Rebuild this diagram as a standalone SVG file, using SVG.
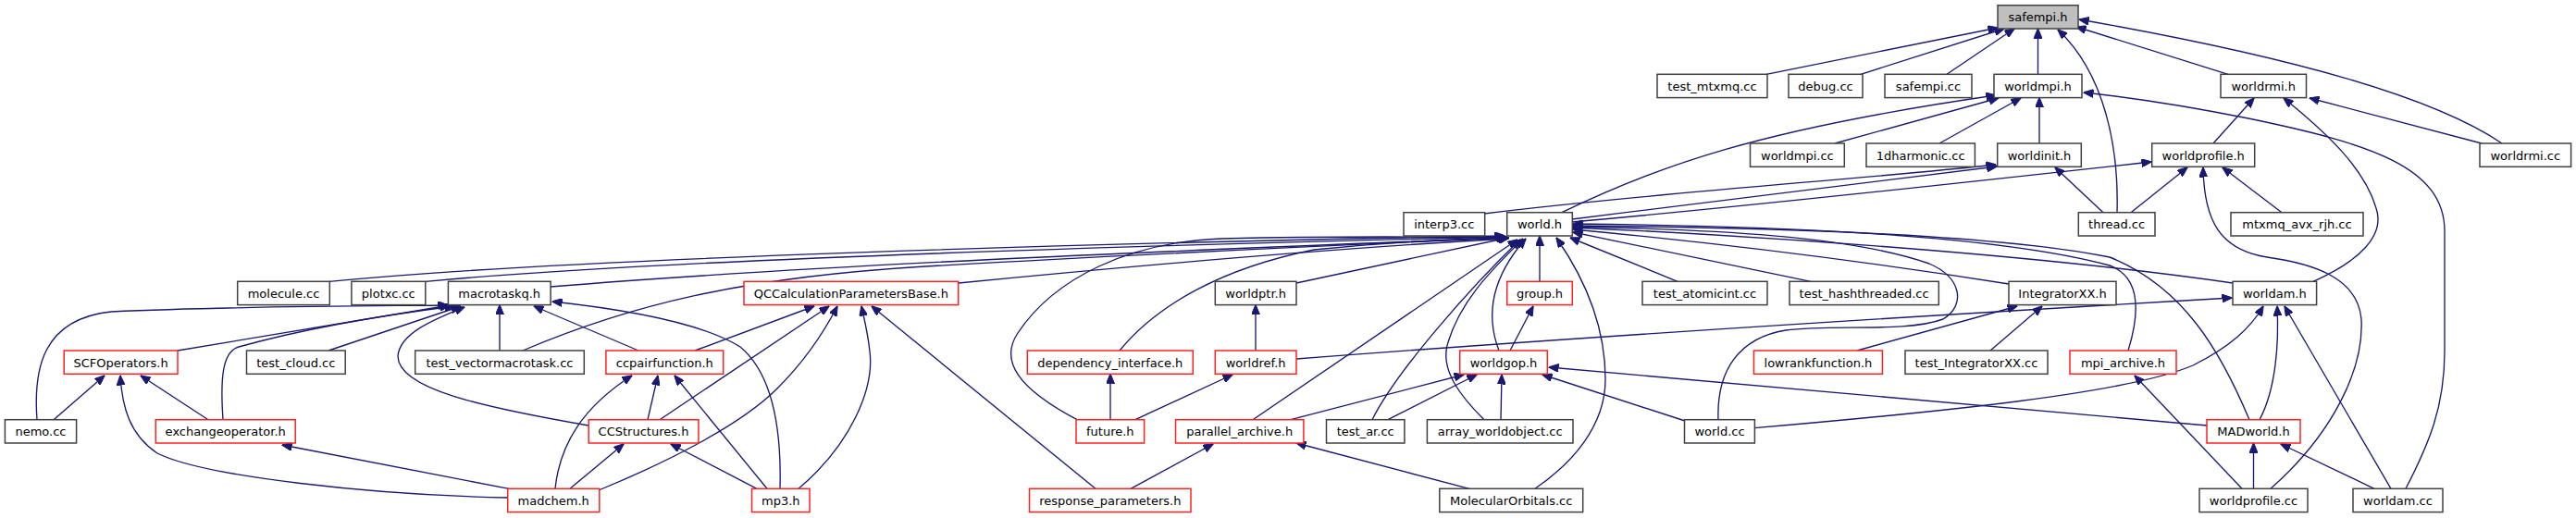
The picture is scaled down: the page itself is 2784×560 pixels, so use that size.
<svg xmlns="http://www.w3.org/2000/svg" width="2784" height="560" viewBox="0 0 2784 560">
<style>
.e{fill:none;stroke:#191970;stroke-width:1.35;marker-end:url(#arr)}
.n rect{fill:#fff;stroke:#404040;stroke-width:1.5}
.r rect{fill:#fff;stroke:#ff2020;stroke-width:1.5}
.root rect{fill:#bfbfbf;stroke:#404040;stroke-width:1.5}
text{font-family:"DejaVu Sans","Liberation Sans",sans-serif;font-size:13px;fill:#000;text-anchor:middle}
</style>
<defs>
<marker id="arr" viewBox="0 0 11 9" refX="10.5" refY="4.5" markerWidth="11" markerHeight="9" markerUnits="userSpaceOnUse" orient="auto"><path d="M0,0 L11,4.5 L0,9 z" fill="#191970" stroke="#191970" stroke-width="1"/></marker>
</defs>
<rect width="2784" height="560" fill="#fff"/>
<g id="edges">
<path class="e" d="M1909,80.3 L2159,30"/>
<path class="e" d="M2011,80.3 L2166,31"/>
<path class="e" d="M2104,80.3 L2177,31"/>
<path class="e" d="M2202.5,80.3 L2202.5,31"/>
<path class="e" d="M2288,229.7 C2290,160 2275,80 2224,32"/>
<path class="e" d="M2408,80.3 L2244,29"/>
<path class="e" d="M2704,155 C2630,105 2480,62 2247,21"/>
<path class="e" d="M1983,155 L2160,106"/>
<path class="e" d="M2096,155 L2184,106"/>
<path class="e" d="M1688,229.7 C1790,180 1900,140 2157,103"/>
<path class="e" d="M2204,155 L2204,105.6"/>
<path class="e" d="M2600,528.3 C2625,480 2642,440 2642,380 L2642,250 C2642,180 2560,155 2430,128 C2350,112 2290,104 2252,100"/>
<path class="e" d="M2392,155 L2436,106"/>
<path class="e" d="M2500,304.3 C2550,282 2578,255 2568,225 C2555,180 2510,140 2468,106"/>
<path class="e" d="M2682,155 L2496,106"/>
<path class="e" d="M1604,231 C1800,207 2000,195 2157,178"/>
<path class="e" d="M1699,237 C1850,218 2000,200 2158,180"/>
<path class="e" d="M2273,229.7 L2221,181"/>
<path class="e" d="M1699,240 C1900,222 2100,200 2325,175"/>
<path class="e" d="M2303,229.7 L2364,181"/>
<path class="e" d="M2454,528.3 C2520,470 2555,400 2552,345 C2548,300 2500,285 2450,278 C2400,270 2382,240 2381,181"/>
<path class="e" d="M2466,229.7 L2402,181"/>
<path class="e" d="M356,304.3 C600,280 1200,262 1626,255"/>
<path class="e" d="M460,304.3 C700,282 1200,266 1627,256"/>
<path class="e" d="M595,310 C900,285 1300,270 1628,257"/>
<path class="e" d="M565,379 C680,330 800,300 1000,288 C1300,271 1500,263 1629,257"/>
<path class="e" d="M1036,306 C1250,285 1450,268 1630,258"/>
<path class="e" d="M1164,453.7 C1100,420 1080,390 1100,360 C1140,300 1220,262 1320,258 C1450,255 1560,256 1630,257"/>
<path class="e" d="M1210,379 C1250,330 1320,290 1420,270 C1500,262 1580,258 1631,257"/>
<path class="e" d="M1401,306 L1630,257"/>
<path class="e" d="M1354,453.7 L1640,259"/>
<path class="e" d="M1483,453.7 C1510,400 1590,310 1643,259"/>
<path class="e" d="M1604,453.7 C1580,430 1555,400 1565,370 C1580,320 1620,285 1646,258"/>
<path class="e" d="M1620,379 C1605,340 1612,300 1649,258"/>
<path class="e" d="M1664,304.3 L1664,255"/>
<path class="e" d="M1659,528.3 C1700,500 1735,460 1735,410 C1735,350 1712,300 1682,257"/>
<path class="e" d="M1813,304.3 L1697,257"/>
<path class="e" d="M1957,304.3 L1700,251"/>
<path class="e" d="M2171,307 C2000,280 1850,262 1700,248"/>
<path class="e" d="M2413,306 C2200,275 1900,255 1700,246"/>
<path class="e" d="M2431,453.7 C2400,380 2360,310 2280,278 C2150,252 1900,246 1700,244"/>
<path class="e" d="M2300,379 C2312,340 2315,300 2280,287 C2150,252 1900,244 1700,242"/>
<path class="e" d="M1857,453.7 C1855,400 1880,365 1930,357 C1980,350 2060,360 2100,345 C2125,330 2120,300 2085,285 C2000,255 1850,248 1700,245"/>
<path class="e" d="M1632,379 L1657,331"/>
<path class="e" d="M1357,379 L1357,329.6"/>
<path class="e" d="M1401,388 C1700,365 2100,340 2412,322"/>
<path class="e" d="M1896,462.7 C2100,445 2300,425 2370,395 C2410,375 2432,355 2446,331"/>
<path class="e" d="M2442,453.7 C2460,420 2463,370 2461,331"/>
<path class="e" d="M2584,528.3 L2469,331"/>
<path class="e" d="M2007,379 L2180,331"/>
<path class="e" d="M2151,379 L2207,331"/>
<path class="e" d="M2423,528.3 L2307,406"/>
<path class="e" d="M2435.5,528.3 L2435.5,479"/>
<path class="e" d="M2566,528.3 L2465,480"/>
<path class="e" d="M2385,460 L1674,397"/>
<path class="e" d="M1395,453.7 L1582,405"/>
<path class="e" d="M1500,453.7 L1596,405"/>
<path class="e" d="M1622,453.7 L1623,405"/>
<path class="e" d="M1821,455 L1667,405"/>
<path class="e" d="M1227,453.7 L1332,405"/>
<path class="e" d="M1200,453.7 L1200,404.3"/>
<path class="e" d="M1222,528.3 L1311,480"/>
<path class="e" d="M1588,528.3 L1401,479"/>
<path class="e" d="M751,379 L880,331"/>
<path class="e" d="M713,453.7 L896,331"/>
<path class="e" d="M647,530 C720,500 800,460 840,420 C870,390 890,360 905,331"/>
<path class="e" d="M863,528.3 C920,480 945,420 940,380 C938,360 934,345 931,331"/>
<path class="e" d="M1184,528.3 L942,331"/>
<path class="e" d="M192,379 L486,330"/>
<path class="e" d="M241,453.7 C238,410 240,380 258,375 C330,355 420,340 491,331"/>
<path class="e" d="M355,379 L498,331"/>
<path class="e" d="M540,379 L540,329.6"/>
<path class="e" d="M690,379 L577,331"/>
<path class="e" d="M636,460 C520,440 430,420 430,385 C432,360 470,345 502,332"/>
<path class="e" d="M843,528.3 C845,450 830,400 800,375 C760,350 680,335 597,326"/>
<path class="e" d="M40,453.7 C36,400 45,345 120,337 C250,331 380,331 484,330"/>
<path class="e" d="M58,453.7 L113,406"/>
<path class="e" d="M225,453.7 L152,406"/>
<path class="e" d="M548.7,538 C400,535 220,515 170,490 C140,470 132,440 130,406"/>
<path class="e" d="M550,528.3 L305,481"/>
<path class="e" d="M600,528.3 C605,480 630,440 683,406"/>
<path class="e" d="M700,453.7 L711,406"/>
<path class="e" d="M829,528.3 L729,406"/>
<path class="e" d="M616,528.3 L674,480"/>
<path class="e" d="M818,528.3 L725,480"/>
</g>
<g id="safempi_h" class="root"><rect x="2159" y="5.7" width="87" height="25.3"/><text x="2202.5" y="23.2">safempi.h</text></g>
<g id="test_mtxmq_cc" class="n"><rect x="1791" y="80.3" width="119" height="25.3"/><text x="1850.5" y="97.8">test_mtxmq.cc</text></g>
<g id="debug_cc" class="n"><rect x="1933" y="80.3" width="80" height="25.3"/><text x="1973" y="97.8">debug.cc</text></g>
<g id="safempi_cc" class="n"><rect x="2037" y="80.3" width="94" height="25.3"/><text x="2084" y="97.8">safempi.cc</text></g>
<g id="worldmpi_h" class="n"><rect x="2155" y="80.3" width="95" height="25.3"/><text x="2202.5" y="97.8">worldmpi.h</text></g>
<g id="worldrmi_h" class="n"><rect x="2400" y="80.3" width="92.5" height="25.3"/><text x="2446.2" y="97.8">worldrmi.h</text></g>
<g id="worldmpi_cc" class="n"><rect x="1891.5" y="155" width="101.8" height="25.3"/><text x="1942.4" y="172.5">worldmpi.cc</text></g>
<g id="n1dharmonic_cc" class="n"><rect x="2017" y="155" width="117.4" height="25.3"/><text x="2075.7" y="172.5">1dharmonic.cc</text></g>
<g id="worldinit_h" class="n"><rect x="2158.7" y="155" width="90.6" height="25.3"/><text x="2204" y="172.5">worldinit.h</text></g>
<g id="worldprofile_h" class="n"><rect x="2325.7" y="155" width="111" height="25.3"/><text x="2381.2" y="172.5">worldprofile.h</text></g>
<g id="worldrmi_cc" class="n"><rect x="2680" y="155" width="98.6" height="25.3"/><text x="2729.3" y="172.5">worldrmi.cc</text></g>
<g id="interp3_cc" class="n"><rect x="1517" y="229.7" width="87.7" height="25.3"/><text x="1560.8" y="247.2">interp3.cc</text></g>
<g id="world_h" class="n"><rect x="1628.7" y="229.7" width="70.6" height="25.3"/><text x="1664" y="247.2">world.h</text></g>
<g id="thread_cc" class="n"><rect x="2246.3" y="229.7" width="82.7" height="25.3"/><text x="2287.6" y="247.2">thread.cc</text></g>
<g id="mtxmq_avx_rjh_cc" class="n"><rect x="2411" y="229.7" width="143" height="25.3"/><text x="2482.5" y="247.2">mtxmq_avx_rjh.cc</text></g>
<g id="molecule_cc" class="n"><rect x="256.7" y="304.3" width="99.6" height="25.3"/><text x="306.5" y="321.8">molecule.cc</text></g>
<g id="plotxc_cc" class="n"><rect x="379.9" y="304.3" width="79.9" height="25.3"/><text x="419.8" y="321.8">plotxc.cc</text></g>
<g id="macrotaskq_h" class="n"><rect x="484.4" y="304.3" width="110.7" height="25.3"/><text x="539.7" y="321.8">macrotaskq.h</text></g>
<g id="QCCalculationParametersBase_h" class="r"><rect x="804" y="304.3" width="231.7" height="25.3"/><text x="919.8" y="321.8">QCCalculationParametersBase.h</text></g>
<g id="worldptr_h" class="n"><rect x="1313.3" y="304.3" width="87.7" height="25.3"/><text x="1357.1" y="321.8">worldptr.h</text></g>
<g id="group_h" class="r"><rect x="1628.7" y="304.3" width="70.6" height="25.3"/><text x="1664" y="321.8">group.h</text></g>
<g id="test_atomicint_cc" class="n"><rect x="1775" y="304.3" width="135" height="25.3"/><text x="1842.5" y="321.8">test_atomicint.cc</text></g>
<g id="test_hashthreaded_cc" class="n"><rect x="1934" y="304.3" width="161.3" height="25.3"/><text x="2014.6" y="321.8">test_hashthreaded.cc</text></g>
<g id="IntegratorXX_h" class="n"><rect x="2171" y="304.3" width="116" height="25.3"/><text x="2229" y="321.8">IntegratorXX.h</text></g>
<g id="worldam_h" class="n"><rect x="2413" y="304.3" width="90.6" height="25.3"/><text x="2458.3" y="321.8">worldam.h</text></g>
<g id="SCFOperators_h" class="r"><rect x="69.2" y="379" width="122.8" height="25.3"/><text x="130.6" y="396.5">SCFOperators.h</text></g>
<g id="test_cloud_cc" class="n"><rect x="266.5" y="379" width="106.7" height="25.3"/><text x="319.8" y="396.5">test_cloud.cc</text></g>
<g id="test_vectormacrotask_cc" class="n"><rect x="448.7" y="379" width="182.6" height="25.3"/><text x="540" y="396.5">test_vectormacrotask.cc</text></g>
<g id="ccpairfunction_h" class="r"><rect x="654.9" y="379" width="126.8" height="25.3"/><text x="718.3" y="396.5">ccpairfunction.h</text></g>
<g id="dependency_interface_h" class="r"><rect x="1110.3" y="379" width="179" height="25.3"/><text x="1199.8" y="396.5">dependency_interface.h</text></g>
<g id="worldref_h" class="r"><rect x="1313.3" y="379" width="87.7" height="25.3"/><text x="1357.1" y="396.5">worldref.h</text></g>
<g id="worldgop_h" class="r"><rect x="1577.7" y="379" width="94.6" height="25.3"/><text x="1625" y="396.5">worldgop.h</text></g>
<g id="lowrankfunction_h" class="r"><rect x="1895.5" y="379" width="138.9" height="25.3"/><text x="1964.9" y="396.5">lowrankfunction.h</text></g>
<g id="test_IntegratorXX_cc" class="n"><rect x="2059" y="379" width="154" height="25.3"/><text x="2136" y="396.5">test_IntegratorXX.cc</text></g>
<g id="mpi_archive_h" class="r"><rect x="2237" y="379" width="115" height="25.3"/><text x="2294.5" y="396.5">mpi_archive.h</text></g>
<g id="nemo_cc" class="n"><rect x="5.4" y="453.7" width="77.2" height="25.3"/><text x="44" y="471.2">nemo.cc</text></g>
<g id="exchangeoperator_h" class="r"><rect x="168.3" y="453.7" width="150.9" height="25.3"/><text x="243.7" y="471.2">exchangeoperator.h</text></g>
<g id="CCStructures_h" class="r"><rect x="636.2" y="453.7" width="118.7" height="25.3"/><text x="695.5" y="471.2">CCStructures.h</text></g>
<g id="future_h" class="r"><rect x="1163" y="453.7" width="73.6" height="25.3"/><text x="1199.8" y="471.2">future.h</text></g>
<g id="parallel_archive_h" class="r"><rect x="1270.5" y="453.7" width="138.4" height="25.3"/><text x="1339.7" y="471.2">parallel_archive.h</text></g>
<g id="test_ar_cc" class="n"><rect x="1433.5" y="453.7" width="84.4" height="25.3"/><text x="1475.7" y="471.2">test_ar.cc</text></g>
<g id="array_worldobject_cc" class="n"><rect x="1542.4" y="453.7" width="157.6" height="25.3"/><text x="1621.2" y="471.2">array_worldobject.cc</text></g>
<g id="world_cc" class="n"><rect x="1820.5" y="453.7" width="75.9" height="25.3"/><text x="1858.5" y="471.2">world.cc</text></g>
<g id="MADworld_h" class="r"><rect x="2385" y="453.7" width="101" height="25.3"/><text x="2435.5" y="471.2">MADworld.h</text></g>
<g id="madchem_h" class="r"><rect x="548.7" y="528.3" width="99.1" height="25.3"/><text x="598.2" y="545.8">madchem.h</text></g>
<g id="mp3_h" class="r"><rect x="812.5" y="528.3" width="62.5" height="25.3"/><text x="843.8" y="545.8">mp3.h</text></g>
<g id="response_parameters_h" class="r"><rect x="1112.5" y="528.3" width="174.5" height="25.3"/><text x="1199.8" y="545.8">response_parameters.h</text></g>
<g id="MolecularOrbitals_cc" class="n"><rect x="1555.8" y="528.3" width="154.9" height="25.3"/><text x="1633.2" y="545.8">MolecularOrbitals.cc</text></g>
<g id="worldprofile_cc" class="n"><rect x="2377" y="528.3" width="117" height="25.3"/><text x="2435.5" y="545.8">worldprofile.cc</text></g>
<g id="worldam_cc" class="n"><rect x="2543" y="528.3" width="97" height="25.3"/><text x="2591.5" y="545.8">worldam.cc</text></g>
</svg>
